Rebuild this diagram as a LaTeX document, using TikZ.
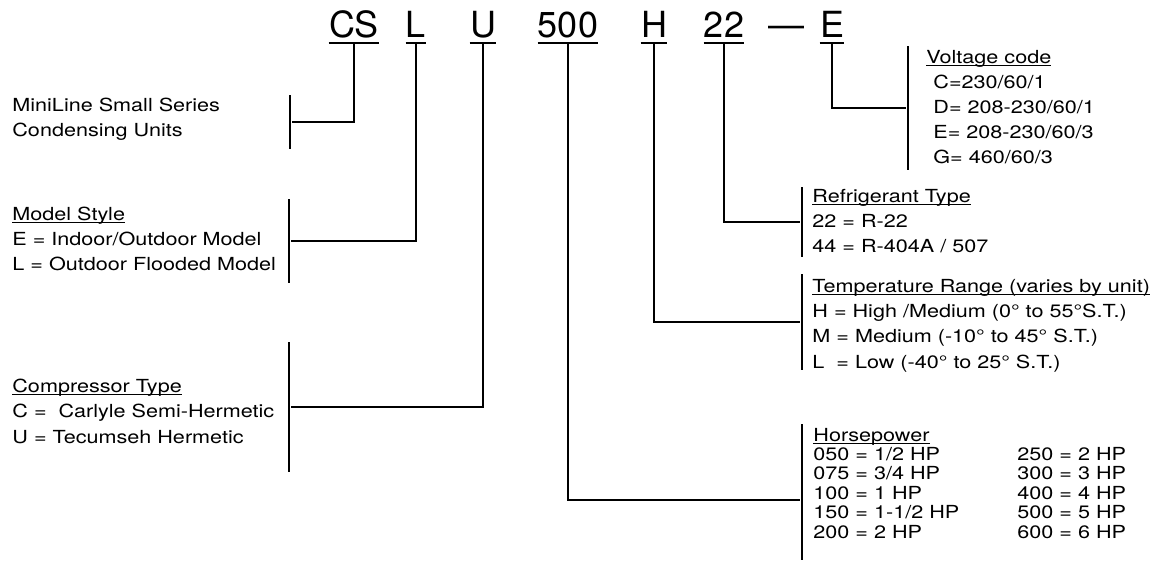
\documentclass[tikz,border=0pt]{standalone}
\usepackage{fontspec}
\setmainfont{TeX Gyre Heros}
\newfontfamily\infofont[FakeStretch=1.2]{TeX Gyre Heros}
\newcommand\undl[1]{\setbox0\hbox{#1}\rlap{\rule[-1.4pt]{\wd0}{0.6pt}}\box0}

\begin{document}
\begin{tikzpicture}[x=0.5pt, y=-0.5pt,
		cpart/.style={font=\fontsize{18}{20}\selectfont, inner xsep=0pt, inner ysep=2.5pt, text depth=0pt, anchor=base},
		uline/.style={line width=0.9pt},
		lead/.style={line width=1.3pt},
		tickbar/.style={fill=black, inner sep=0pt, minimum width=1.4pt},
		textblock/.style={font=\infofont\fontsize{9}{12.6}\selectfont, align=left, inner sep=0pt, anchor=base west}]
		%%%%% START %%%%%
		\useasboundingbox (0, 0) rectangle (1157, 561);
		
		% model number
		\node[cpart] (cs) at (354, 38) {CS};
		\node[cpart] (l) at (416, 38) {L};
		\node[cpart] (u) at (483, 38) {U};
		\node[cpart] (p500) at (568, 38) {500};
		\node[cpart] (h) at (654, 38) {H};
		\node[cpart] (p22) at (724, 38) {22};
		\node[cpart] (dash) at (786, 38) {---};
		\node[cpart] (e) at (832, 38) {E};
		
		\foreach \n in {cs, l, u, p500, h, p22, e}
			\draw[uline] (\n.south west) -- (\n.south east);
		
		% left side (blocks sit on their last line)
		\node[textblock] (mini) at (12, 137) {MiniLine Small Series\\Condensing Units};
		\node[tickbar, minimum height=27pt] (minibar) at (290, 122) {};
		
		\node[textblock] (model) at (12, 271) {\undl{Model Style}\\E = Indoor/Outdoor Model\\L = Outdoor Flooded Model};
		\node[tickbar, minimum height=42pt] (modelbar) at (289, 241) {};
		
		\node[textblock] (comp) at (12, 443) {\undl{Compressor Type}\\C =\ \ Carlyle Semi-Hermetic\\U = Tecumseh Hermetic};
		\node[tickbar, minimum height=65pt] (compbar) at (289, 407) {};
		
		% right side
		\node[textblock] (volt) at (926, 164) {\undl{Voltage code}\\\hspace*{3.5pt}C=230/60/1\\\hspace*{3.5pt}D= 208-230/60/1\\\hspace*{3.5pt}E= 208-230/60/3\\\hspace*{3.5pt}G= 460/60/3};
		\node[tickbar, minimum height=62pt] (voltbar) at (908, 108) {};
		
		\node[textblock] (refr) at (812, 253) {\undl{Refrigerant Type}\\22 = R-22\\44 = R-404A / 507};
		\node[tickbar, minimum height=35pt] (refrbar) at (802, 222) {};
		
		\node[textblock] (temp) at (812, 368) {\undl{Temperature Range (varies by unit)}\\H = High /Medium (0° to 55°S.T.)\\M = Medium (-10° to 45° S.T.)\\L\ \ = Low (-40° to 25° S.T.)};
		\node[tickbar, minimum height=48pt] (tempbar) at (802, 322) {};
		
		\node[textblock, font=\infofont\fontsize{9}{9.7}\selectfont] (hp) at (813, 538) {\undl{Horsepower}\\
			\makebox[102pt][l]{050 = 1/2 HP}250 = 2 HP\\
			\makebox[102pt][l]{075 = 3/4 HP}300 = 3 HP\\
			\makebox[102pt][l]{100 = 1 HP}400 = 4 HP\\
			\makebox[102pt][l]{150 = 1-1/2 HP}500 = 5 HP\\
			\makebox[102pt][l]{200 = 2 HP}600 = 6 HP};
		\node[tickbar, minimum height=68pt] (hpbar) at (802, 492) {};
		
		% leaders
		\draw[lead] (cs.south) |- (minibar);
		\draw[lead] (l.south) |- (modelbar);
		\draw[lead] (u.south) |- (compbar);
		\draw[lead] (p500.south) |- ([yshift=-4pt]hpbar.west);
		\draw[lead] (h.south) |- (tempbar);
		\draw[lead] (p22.south) |- (refrbar);
		\draw[lead] (e.south) |- (voltbar);
		
		%%%%% END %%%%%
	\end{tikzpicture}
\end{document}
